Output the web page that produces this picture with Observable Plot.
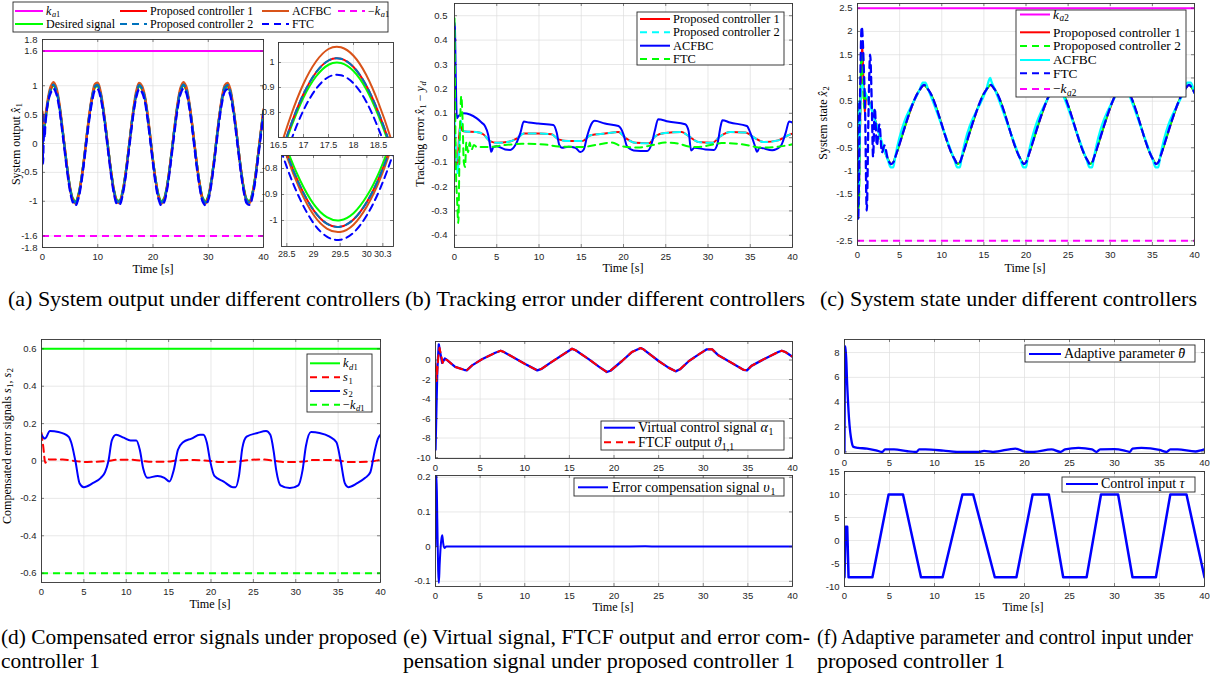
<!DOCTYPE html>
<html><head><meta charset="utf-8">
<script src="https://cdn.jsdelivr.net/npm/d3@7"></script>
<script src="https://cdn.jsdelivr.net/npm/@observablehq/plot@0.6"></script>
<style>
html,body{margin:0;padding:0;background:#fff;}
#fig{position:relative;width:1219px;height:677px;overflow:hidden;background:#fff;}
#fig svg{position:absolute;}
</style></head><body><div id="fig"></div>
<script>
// ---------------- colours ----------------
const MAG="#ff00ff", RED="#ff0000", GRN="#00ff00", ORG="#d95319", SB="#0072bd", BLU="#0000ff", CYN="#00ffff";
const GRID="#dedede", FR="#333333", TXT="#262626";
const DASH="7,5";

// ---------------- panel (a): system output ----------------
const tA=[0,0.1,0.2,0.3,0.4,0.5,0.75,1,1.5,2,2.5,3,3.5,4,4.5,5,5.5,6,6.5,7,7.5,8,8.5,9,9.5,10,10.5,11,11.5,12,12.5,13,13.5,14,14.5,15,15.5,16,16.5,17,17.5,18,18.5,19,19.5,20,20.5,21,21.5,22,22.5,23,23.5,24,24.5,25,25.5,26,26.5,27,27.5,28,28.5,29,29.5,30,30.5,31,31.5,32,32.5,33,33.5,34,34.5,35,35.5,36,36.5,37,37.5,38,38.5,39,39.5,40];
const ydA=[0,0.08,0.16,0.24,0.31,0.39,0.56,0.72,0.93,1.00,0.91,0.68,0.33,-0.06,-0.44,-0.76,-0.95,-1.00,-0.88,-0.63,-0.28,0.12,0.49,0.79,0.97,0.99,0.85,0.58,0.22,-0.17,-0.54,-0.83,-0.98,-0.98,-0.82,-0.54,-0.17,0.23,0.59,0.86,0.99,0.94,0.79,0.49,0.11,-0.29,-0.64,-0.89,-1.00,-0.95,-0.75,-0.43,-0.05,0.34,0.68,0.91,1.00,0.93,0.71,0.38,-0.01,-0.40,-0.72,-0.94,-1.00,-0.91,-0.67,-0.33,0.07,0.45,0.76,0.95,0.99,0.88,0.62,0.27,-0.13,-0.50,-0.80,-0.97,-0.99,-0.85,-0.58,-0.21,0.18,0.55];
const p1A=[0.30,0.26,0.28,0.33,0.38,0.43,0.58,0.74,0.95,1.02,0.93,0.69,0.33,-0.06,-0.45,-0.78,-0.97,-1.02,-0.90,-0.64,-0.29,0.12,0.50,0.81,0.99,1.01,0.87,0.59,0.22,-0.18,-0.55,-0.85,-1.00,-1.00,-0.84,-0.55,-0.18,0.23,0.60,0.87,1.01,0.96,0.80,0.50,0.11,-0.30,-0.65,-0.91,-1.02,-0.97,-0.77,-0.44,-0.05,0.35,0.69,0.93,1.02,0.95,0.72,0.39,-0.01,-0.41,-0.73,-0.96,-1.02,-0.93,-0.68,-0.34,0.07,0.46,0.78,0.97,1.01,0.90,0.63,0.28,-0.13,-0.51,-0.82,-0.99,-1.01,-0.87,-0.59,-0.21,0.18,0.56];
const p2A=[0.20,0.24,0.27,0.32,0.37,0.42,0.58,0.74,0.95,1.02,0.93,0.69,0.33,-0.06,-0.45,-0.78,-0.97,-1.02,-0.90,-0.64,-0.29,0.12,0.50,0.81,0.99,1.01,0.87,0.59,0.22,-0.18,-0.55,-0.85,-1.00,-1.00,-0.84,-0.55,-0.18,0.23,0.60,0.87,1.01,0.96,0.80,0.50,0.11,-0.30,-0.65,-0.91,-1.02,-0.97,-0.77,-0.44,-0.05,0.35,0.69,0.93,1.02,0.95,0.72,0.39,-0.01,-0.41,-0.73,-0.96,-1.02,-0.93,-0.68,-0.34,0.07,0.46,0.78,0.97,1.01,0.90,0.63,0.28,-0.13,-0.51,-0.82,-0.99,-1.01,-0.87,-0.59,-0.21,0.18,0.56];
const acA=[0.55,0.42,0.34,0.36,0.42,0.48,0.63,0.79,0.99,1.06,0.97,0.73,0.36,-0.05,-0.45,-0.79,-0.99,-1.04,-0.92,-0.65,-0.29,0.14,0.53,0.84,1.03,1.05,0.91,0.62,0.24,-0.17,-0.56,-0.86,-1.02,-1.02,-0.85,-0.56,-0.17,0.25,0.63,0.92,1.05,1.00,0.84,0.53,0.13,-0.30,-0.66,-0.93,-1.04,-0.99,-0.78,-0.44,-0.04,0.37,0.73,0.97,1.06,0.99,0.76,0.41,0.00,-0.41,-0.75,-0.98,-1.04,-0.95,-0.70,-0.34,0.08,0.48,0.81,1.01,1.05,0.94,0.66,0.29,-0.13,-0.52,-0.83,-1.01,-1.03,-0.89,-0.60,-0.21,0.20,0.59];
const ftcA=[0.50,-0.35,0.05,0.25,0.10,0.30,0.55,0.72,0.88,0.95,0.86,0.63,0.27,-0.12,-0.51,-0.83,-1.02,-1.07,-0.95,-0.70,-0.34,0.06,0.44,0.74,0.92,0.94,0.80,0.53,0.16,-0.23,-0.61,-0.90,-1.05,-1.05,-0.89,-0.61,-0.23,0.17,0.54,0.81,0.94,0.89,0.74,0.43,0.05,-0.35,-0.71,-0.96,-1.07,-1.02,-0.82,-0.50,-0.11,0.28,0.63,0.86,0.95,0.88,0.66,0.32,-0.07,-0.47,-0.79,-1.01,-1.07,-0.98,-0.74,-0.39,0.01,0.40,0.71,0.90,0.94,0.83,0.57,0.21,-0.19,-0.57,-0.87,-1.04,-1.06,-0.92,-0.65,-0.27,0.12,0.50];
const kA=[1.6];
// zoomed insets of (a)
const tI1=[16.25,16.5,16.75,17,17.25,17.5,17.75,18,18.25,18.5,18.75,19];
const ydI1=[0.420,0.592,0.740,0.860,0.944,0.991,0.998,0.966,0.895,0.787,0.650,0.487];
const p1I1=[0.425,0.600,0.752,0.874,0.960,1.008,1.015,0.982,0.910,0.800,0.660,0.493];
const acI1=[0.452,0.633,0.789,0.915,1.004,1.054,1.061,1.027,0.952,0.838,0.694,0.522];
const ftcI1=[0.363,0.538,0.688,0.809,0.894,0.942,0.949,0.917,0.845,0.735,0.596,0.431];
const tI2=[28.25,28.5,28.75,29,29.25,29.5,29.75,30,30.25,30.5,30.75];
const ydI2=[-0.572,-0.724,-0.846,-0.936,-0.987,-0.999,-0.972,-0.906,-0.805,-0.668,-0.508];
const p1I2=[-0.588,-0.743,-0.868,-0.960,-1.012,-1.024,-0.996,-0.929,-0.826,-0.686,-0.523];
const acI2=[-0.594,-0.754,-0.883,-0.978,-1.031,-1.044,-1.016,-0.946,-0.840,-0.695,-0.526];
const ftcI2=[-0.641,-0.795,-0.919,-1.010,-1.062,-1.074,-1.047,-0.980,-0.877,-0.739,-0.577];

// ---------------- panel (b): tracking error ----------------
const tB1=[0,0.1,0.2,0.35,0.5,0.7,0.9,1.26,2.6,3.4,4.2,5,6.4,7.4,8.2,9.9,11.5,12.3,13.5,15.1,16.1,17.8,19.4,20.2,21.4,23,23.8,24.9,26.9,27.7,28.9,30.5,31.5,32.6,34.4,35.6,36.6,38.3,39.3,40];
const vB1=[0.05,-0.05,-0.09,-0.12,-0.02,0.06,0.03,0.025,0.023,0.014,-0.014,-0.021,-0.017,-0.003,0.017,0.017,0.014,-0.007,-0.014,-0.014,0.01,0.017,0.023,0,-0.021,-0.023,0.007,0.019,0.023,0.007,-0.018,-0.021,0.007,0.023,0.021,-0.003,-0.018,-0.011,0.007,0.017];
const tB2=[0,0.25,0.4,0.55,0.75,1.0,1.3,2.6,3.4,4.2,5,6.4,7.4,8.2,9.9,11.5,12.3,13.5,15.1,16.1,17.8,19.4,20.2,21.4,23,23.8,24.9,26.9,27.7,28.9,30.5,31.5,32.6,34.4,35.6,36.6,38.3,39.3,40];
const vB2=[0.08,-0.1,-0.15,-0.03,0.07,0.03,0.025,0.023,0.014,-0.014,-0.021,-0.017,-0.003,0.017,0.017,0.014,-0.007,-0.014,-0.014,0.01,0.017,0.023,0,-0.021,-0.023,0.007,0.019,0.023,0.007,-0.018,-0.021,0.007,0.023,0.021,-0.003,-0.018,-0.011,0.007,0.017];
const tB3=[0,0.05,0.15,0.28,0.5,1.07,2.6,3.2,3.6,4.0,4.2,4.35,4.6,5,6,6.6,7.2,7.8,8.2,8.8,9.9,11.7,12.1,12.4,12.7,13.5,14.3,14.9,15.3,15.7,16.3,16.6,17.8,19.4,20.0,20.4,21.2,22.8,23.3,23.7,24.1,25.3,27.3,27.7,28.0,28.4,29.7,30.7,31.1,31.5,31.7,32.6,34.6,35.0,35.5,35.8,36.1,37.6,38.6,39.2,39.6,40];
const vB3=[0.47,0.45,0.25,0.08,0.09,0.1,0.08,0.062,0.048,0.01,-0.03,-0.058,-0.038,-0.035,-0.048,-0.05,-0.03,0.02,0.066,0.062,0.058,0.052,0.02,-0.03,-0.041,-0.037,-0.041,-0.059,-0.048,0.007,0.062,0.069,0.058,0.048,0.014,-0.034,-0.052,-0.055,-0.028,0.027,0.076,0.066,0.055,0.028,-0.052,-0.041,-0.048,-0.05,-0.028,0.048,0.072,0.062,0.048,0.021,-0.028,-0.058,-0.041,-0.051,-0.034,0.021,0.066,0.062];
const tB4=[0,0.15,0.3,0.45,0.6,0.8,0.95,1.1,1.25,1.4,1.6,1.8,2.0,2.3,2.7,3,4.2,6,8,10.7,12.3,15.1,17,18.6,19.8,21.7,23.5,24.9,26.5,27.7,28.9,30.3,31.6,33.5,35,36,38,40];
const vB4=[0.49,-0.1,-0.25,-0.35,-0.05,0.17,0.08,-0.1,-0.12,-0.02,-0.06,-0.02,-0.05,-0.03,-0.04,-0.038,-0.038,-0.03,-0.025,-0.028,-0.036,-0.038,-0.028,-0.02,-0.035,-0.04,-0.03,-0.02,-0.024,-0.036,-0.038,-0.03,-0.022,-0.025,-0.033,-0.04,-0.038,-0.027];

// ---------------- panel (c): system state ----------------
const tCtail=[1.4,3.6,4.0,4.3,4.45,7.4,7.9,8.4,11.5,11.9,12.2,12.35,15.3,15.8,16.3,19.35,19.75,20.05,20.2,23.15,23.65,24.15,27.2,27.6,27.9,28.05,31.0,31.5,32.0,35.05,35.45,35.75,35.9,38.85,39.35,39.65,40];
const vCtail=[0.48,-0.74,-0.85,-0.8,-0.72,0.75,0.85,0.75,-0.74,-0.85,-0.8,-0.72,0.75,0.85,0.75,-0.74,-0.85,-0.8,-0.72,0.75,0.85,0.75,-0.74,-0.85,-0.8,-0.72,0.75,0.85,0.75,-0.74,-0.85,-0.8,-0.72,0.75,0.85,0.8,0.68];
const tC1a=[0,0.15,0.35,0.55,0.7,0.85,1.05], vC1a=[-0.5,-1.6,0.4,1.75,1.0,0.25,0.62];
const tC2a=[0,0.15,0.3,0.45,0.6,0.8,1.0], vC2a=[0.3,-1.8,-0.2,1.5,1.1,0.35,0.65];
const tC5a=[0,0.08,0.25,0.5,0.75,0.9,1.1,1.3,1.5,1.7,1.85,2.05,2.3,2.6,2.9,3.2];
const vC5a=[0.45,-2.05,0.0,2.1,1.2,0.3,-1.85,0.2,1.5,0.4,-0.7,0.35,-0.45,0.0,-0.6,-0.45];
const tC4=[0,0.12,0.3,0.5,0.8,3.6,3.95,4.25,4.45,7.4,7.75,8.05,8.4,11.5,11.85,12.15,12.35,15.3,15.75,15.9,16.3,19.35,19.7,20.0,20.2,23.15,23.5,23.8,24.15,27.2,27.55,27.85,28.05,31.0,31.35,31.65,32.0,35.05,35.4,35.7,35.9,38.85,39.15,39.55,40];
const vC4=[0.5,-1.4,0.2,0.85,0.74,-0.76,-0.92,-0.92,-0.72,0.76,0.9,0.9,0.75,-0.76,-0.92,-0.92,-0.72,0.76,1.0,0.92,0.75,-0.76,-0.92,-0.92,-0.72,0.76,0.9,0.9,0.75,-0.76,-0.92,-0.92,-0.72,0.76,0.9,0.9,0.75,-0.76,-0.92,-0.92,-0.72,0.76,0.9,0.9,0.68];
const kC=[2.5];

// ---------------- panel (d): compensated errors ----------------
const tD1=[0,0.2,0.45,0.7,1.0,2.5,4.0,5,6.5,7.8,9,11,12,13,15,16,18,20,21,23,24,26,27.6,29,31,32,34,35.4,36.5,38.5,39.5,40];
const vD1=[0.15,0.08,-0.01,0.01,0.008,0.008,0.0,-0.005,-0.004,0.0,0.007,0.006,0.0,-0.004,-0.003,0.003,0.005,0.0,-0.005,-0.004,0.003,0.008,0.0,-0.006,-0.003,0.005,0.006,0.0,-0.006,-0.004,0.002,0.007];
const tD2=[0,0.4,1,2,3.2,3.5,4,4.5,5,6,7,7.5,7.9,8.3,8.8,9.7,10.5,11.2,11.6,12,12.5,13.7,14.5,15.1,15.6,16.1,16.7,17.7,18.7,19.1,19.5,19.9,20.4,21.5,22.6,22.9,23.3,23.7,24.2,25.5,26.5,27,27.4,27.7,28.2,29.3,30.3,30.8,31.2,31.8,32.8,34,34.8,35.3,35.8,36.2,37.2,38.2,38.8,39.3,39.7,40];
const vD2=[0.14,0.12,0.16,0.155,0.13,0.1,0,-0.12,-0.14,-0.12,-0.09,-0.06,0,0.11,0.14,0.125,0.11,0.11,0.06,-0.04,-0.09,-0.08,-0.09,-0.11,-0.05,0.06,0.1,0.12,0.14,0.14,0.1,0,-0.08,-0.11,-0.14,-0.14,-0.08,0.07,0.13,0.15,0.16,0.14,0.05,-0.05,-0.13,-0.145,-0.13,-0.05,0.08,0.155,0.15,0.13,0.1,0,-0.12,-0.14,-0.12,-0.09,-0.06,0.05,0.12,0.14];
const kD=[0.6];

// ---------------- panel (e): virtual signal / FTCF / compensation ----------------
const tE1=[0,0.1,0.2,0.37,0.56,0.75,1.04,1.3,2.2,3.2,3.5,4.1,5.2,6.7,7.3,7.6,8.6,10.1,11.4,11.9,12.9,14.6,15.3,15.7,17.2,18.3,19.2,19.6,20.9,22.0,23.0,23.3,25.0,26.1,26.9,27.4,28.4,29.5,30.4,31.0,31.7,33.0,34.5,34.9,35.4,36.9,38.4,38.8,39.2,40];
const vE1=[-9.2,-5,-1,1.6,0.6,-0.3,0.15,0,-0.7,-1.0,-1.06,-0.55,0.07,0.75,0.95,0.85,0.34,-0.44,-1.06,-0.9,-0.27,0.75,1.16,1.0,0.07,-0.68,-1.23,-1.1,-0.1,0.82,1.23,1.1,-0.1,-0.78,-1.16,-0.95,-0.1,0.58,1.1,1.1,0.48,-0.2,-1.0,-1.06,-0.6,0.14,0.82,0.95,0.82,0.34];
const tE2=[0,0.12,0.3,0.45,0.65,0.8,1.0,1.3,2.2,3.2,3.5,4.1,5.2,6.7,7.3,7.6,8.6,10.1,11.4,11.9,12.9,14.6,15.3,15.7,17.2,18.3,19.2,19.6,20.9,22.0,23.0,23.3,25.0,26.1,26.9,27.4,28.4,29.5,30.4,31.0,31.7,33.0,34.5,34.9,35.4,36.9,38.4,38.8,39.2,40];
const vE2=[-0.4,-2.15,0.2,1.25,0.4,-0.3,0.1,0,-0.7,-1.0,-1.06,-0.55,0.07,0.75,0.95,0.85,0.34,-0.44,-1.06,-0.9,-0.27,0.75,1.16,1.0,0.07,-0.68,-1.23,-1.1,-0.1,0.82,1.23,1.1,-0.1,-0.78,-1.16,-0.95,-0.1,0.58,1.1,1.1,0.48,-0.2,-1.0,-1.06,-0.6,0.14,0.82,0.95,0.82,0.34];
const tE3=[0,0.05,0.11,0.2,0.3,0.38,0.47,0.58,0.68,0.76,0.86,1.0,1.2,5,10,15,20,23.5,25,30,35,40];
const vE3=[0,0.15,0.21,0.08,-0.07,-0.105,-0.05,0.0,0.025,0.033,0.01,-0.004,0,0,0,0,0,0.001,0,0,0,0];

// ---------------- panel (f): adaptive parameter / control input ----------------
const tF1=[0,0.05,0.12,0.3,0.5,0.8,1.0,1.5,2.5,3.5,4.2,4.5,5.5,7,8,8.3,9,11,12.5,15,15.5,16.5,19,20,21,23,24,24.5,26,27.5,28,28.4,30,31,31.7,32,33,35,35.8,36.2,37,39,39.7,40];
const vF1=[0,8.3,8.5,5.4,2.7,0.8,0.4,0.32,0.27,0.13,0,0.2,0.2,0.05,0,0.2,0.2,0.1,0,0,0.08,0,0.27,0.02,0,0.2,0,0.2,0.33,0.2,0,0.2,0.22,0.13,0,0.27,0.32,0.16,0,0.2,0.2,0.03,0.15,0.2];
const tF2=[0,0.12,0.3,0.45,3.1,4.9,6.5,8.5,10.9,13.1,14.3,16.7,19.1,20.9,22.7,24.3,26.9,28.5,30.4,32.0,34.6,36.2,38.0,40];
const vF2=[-8,3,3,-8,-8,10,10,-8,-8,10,10,-8,-8,10,10,-8,-8,10,10,-8,-8,10,10,-8];

// ---------------- ticks ----------------
const xT5=[0,5,10,15,20,25,30,35,40];
const xT10=[0,10,20,30,40];
const yTA=[-1.8,-1.6,-1,-0.5,0,0.5,1,1.6,1.8];
const xTI1=[16.5,17,17.5,18,18.5], yTI1=[0.8,0.9,1];
const xTI2=[28.5,29,29.5,30,30.3], yTI2=[-1,-0.9,-0.8];
const yTB=[-0.4,-0.3,-0.2,-0.1,0,0.1,0.2,0.3,0.4,0.5];
const yTC=[-2.5,-2,-1.5,-1,-0.5,0,0.5,1,1.5,2,2.5];
const yTD=[-0.6,-0.4,-0.2,0,0.2,0.4,0.6];
const yTE1=[-10,-8,-6,-4,-2,0], yTE2=[-0.1,0,0.1,0.2];
const yTF1=[0,2,4,6,8], yTF2=[-10,-5,0,5,10,15];

// ---------------- helpers ----------------
const root=document.getElementById("fig");
const fmt=d=>String(d);
function L(t,v,o){const n=Math.min(t.length,v.length);const tt=t.slice(0,n),vv=v.slice(0,n);
  return Plot.line(tt,{x:tt,y:vv,stroke:o.c,strokeWidth:o.w||2,strokeDasharray:o.d?DASH:null,curve:o.curve||"monotone-x",clip:true});}
function panel(o){
  const ml=40,mr=8,mt=8,mb=24;
  const marks=[
    Plot.gridX(o.xt,{stroke:GRID,strokeOpacity:1,strokeWidth:0.7}),
    Plot.gridY(o.yt,{stroke:GRID,strokeOpacity:1,strokeWidth:0.7}),
    ...o.marks,
    Plot.axisX(o.xt,{label:null,tickSize:0,tickPadding:o.xpad??6,tickFormat:fmt}),
    Plot.axisY(o.yt,{label:null,tickSize:0,tickPadding:o.ypad??5,tickFormat:fmt}),
    Plot.tickX(o.xt,{x:d=>d,insetTop:o.h-3,stroke:FR,strokeWidth:0.6}),
    Plot.tickX(o.xt,{x:d=>d,insetBottom:o.h-3,stroke:FR,strokeWidth:0.6}),
    Plot.tickY(o.yt,{y:d=>d,insetRight:o.w-3,stroke:FR,strokeWidth:0.6}),
    Plot.tickY(o.yt,{y:d=>d,insetLeft:o.w-3,stroke:FR,strokeWidth:0.6}),
    Plot.frame({stroke:FR,strokeWidth:0.9})
  ];
  const svg=Plot.plot({width:o.w+ml+mr,height:o.h+mt+mb,marginLeft:ml,marginRight:mr,marginTop:mt,marginBottom:mb,
    x:{domain:o.x},y:{domain:o.y},
    style:{fontFamily:"'Liberation Sans',Arial,Helvetica,sans-serif",fontSize:(o.fs||9.5)+"px",color:TXT,background:"transparent",overflow:"visible"},
    marks});
  svg.style.left=(o.left-ml)+"px"; svg.style.top=(o.top-mt)+"px";
  root.appendChild(svg);
}

// ---------------- (a) ----------------
panel({left:42,top:39,w:221,h:208,x:[0,40],y:[-1.8,1.8],xt:xT10,yt:yTA,marks:[
  Plot.ruleY(kA,{y:d=>d,stroke:MAG,strokeWidth:2}),
  L(tA,ydA,{c:GRN,w:2.3,curve:"catmull-rom"}),
  L(tA,p1A,{c:RED,w:2.3,curve:"catmull-rom"}),
  L(tA,acA,{c:ORG,w:2.3,curve:"catmull-rom"}),
  L(tA,p2A,{c:SB,w:2.3,d:1,curve:"catmull-rom"}),
  L(tA,ftcA,{c:BLU,w:2.3,d:1,curve:"catmull-rom"}),
  Plot.ruleY(kA,{y:d=>-d,stroke:MAG,strokeWidth:2,strokeDasharray:DASH})
]});
panel({left:278,top:42,w:115,h:95,x:[16.5,18.8],y:[0.7,1.08],xt:xTI1,yt:yTI1,fs:9,xpad:4,ypad:4,marks:[
  L(tI1,ydI1,{c:GRN,curve:"natural"}),L(tI1,p1I1,{c:RED,curve:"natural"}),L(tI1,acI1,{c:ORG,curve:"natural"}),
  L(tI1,p1I1,{c:SB,d:1,curve:"natural"}),L(tI1,ftcI1,{c:BLU,d:1,curve:"natural"})]});
panel({left:281,top:155,w:112,h:91,x:[28.4,30.5],y:[-1.1,-0.75],xt:xTI2,yt:yTI2,fs:9,xpad:4,ypad:4,marks:[
  L(tI2,ydI2,{c:GRN,curve:"natural"}),L(tI2,p1I2,{c:RED,curve:"natural"}),L(tI2,acI2,{c:ORG,curve:"natural"}),
  L(tI2,p1I2,{c:SB,d:1,curve:"natural"}),L(tI2,ftcI2,{c:BLU,d:1,curve:"natural"})]});

// ---------------- (b) ----------------
panel({left:454,top:3,w:338,h:244,x:[0,40],y:[-0.45,0.55],xt:xT5,yt:yTB,ypad:7,marks:[
  L(tB1,vB1,{c:RED}),L(tB2,vB2,{c:CYN,d:1}),L(tB3,vB3,{c:BLU}),L(tB4,vB4,{c:GRN,d:1})]});

// ---------------- (c) ----------------
panel({left:857,top:3,w:337,h:242,x:[0,40],y:[-2.6,2.6],xt:xT5,yt:yTC,marks:[
  Plot.ruleY(kC,{y:d=>d,stroke:MAG,strokeWidth:2}),
  L(tC1a.concat(tCtail),vC1a.concat(vCtail),{c:RED}),
  L(tC2a.concat(tCtail),vC2a.concat(vCtail),{c:GRN,d:1}),
  L(tC4,vC4,{c:CYN,w:2.3}),
  L(tC5a.concat(tCtail.slice(1)),vC5a.concat(vCtail.slice(1)),{c:BLU,w:2.3,d:1}),
  Plot.ruleY(kC,{y:d=>-d,stroke:MAG,strokeWidth:2,strokeDasharray:DASH})]});

// ---------------- (d) ----------------
panel({left:41,top:339,w:339,h:243,x:[0,40],y:[-0.65,0.65],xt:xT5,yt:yTD,marks:[
  Plot.ruleY(kD,{y:d=>d,stroke:GRN,strokeWidth:2}),
  L(tD1,vD1,{c:RED,d:1}),L(tD2,vD2,{c:BLU}),
  Plot.ruleY(kD,{y:d=>-d,stroke:GRN,strokeWidth:2,strokeDasharray:DASH})]});

// ---------------- (e) ----------------
panel({left:435,top:341,w:357,h:117,x:[0,40],y:[-10.1,1.9],xt:xT5,yt:yTE1,marks:[
  L(tE1,vE1,{c:BLU,w:2.3,curve:"linear"}),L(tE2,vE2,{c:RED,d:1,curve:"linear"})]});
panel({left:435,top:475,w:357,h:111,x:[0,40],y:[-0.115,0.205],xt:xT5,yt:yTE2,marks:[
  L(tE3,vE3,{c:BLU})]});

// ---------------- (f) ----------------
panel({left:844,top:339,w:360,h:114,x:[0,40],y:[-0.13,9.05],xt:xT5,yt:yTF1,marks:[
  L(tF1,vF1,{c:BLU,w:2.3})]});
panel({left:844,top:471,w:360,h:115,x:[0,40],y:[-10,15],xt:xT5,yt:yTF2,marks:[
  L(tF2,vF2,{c:BLU,w:2.5,curve:"linear"})]});

// ---------------- overlay: labels, legends, captions ----------------
const ov=d3.create("svg").attr("width",1219).attr("height",677).style("left","0px").style("top","0px");
const SERIF="'Liberation Serif','Times New Roman',Times,serif";
function mtext(g,x,y,parts,o={}){
  const size=o.size||12.5;
  if(typeof parts==="string") parts=[[parts,""]];
  const t=g.append("text").attr("x",x).attr("y",y).attr("font-family",SERIF).attr("font-size",size).attr("fill","#000");
  if(o.anchor) t.attr("text-anchor",o.anchor);
  if(o.rotate) t.attr("transform",`rotate(-90 ${x} ${y})`);
  if(o.len) t.attr("textLength",o.len).attr("lengthAdjust",o.adjust||"spacingAndGlyphs");
  let shift=0, prevSub=false;
  for(const [s,st] of parts){
    const sp=t.append("tspan").text(s);
    if(st.includes("h")){ // hat accent over the previous glyph
      sp.attr("dx",-size*0.43).attr("dy",-size*0.06);
      continue;
    }
    const sub=st.includes("s");
    const target=sub?size*0.2:0;
    if(target!==shift){sp.attr("dy",target-shift);shift=target;}
    if(sub){sp.attr("font-size",size*0.7); if(!prevSub) sp.attr("dx",size*0.05);}
    if(st.includes("i")) sp.attr("font-style","italic");
    prevSub=sub;
  }
  return t;
}
function legend(box,items,o){
  ov.append("rect").attr("x",box[0]).attr("y",box[1]).attr("width",box[2]-box[0]).attr("height",box[3]-box[1])
    .attr("fill","#fff").attr("stroke","#262626").attr("stroke-width",0.9);
  for(const it of items){
    ov.append("line").attr("x1",it.x0??o.x0).attr("x2",it.x1??o.x1).attr("y1",it.y).attr("y2",it.y)
      .attr("stroke",it.c).attr("stroke-width",2).attr("stroke-dasharray",it.d?DASH:null);
    mtext(ov,it.tx??o.tx,it.y+o.size*0.32,it.p,{size:o.size});
  }
}
// legends
legend([13,2,388,32],[
  {x0:15,x1:43,tx:46,y:11,c:MAG,p:[["k","i"],["a","si"],["1","s"]]},
  {x0:15,x1:43,tx:46,y:24,c:GRN,p:"Desired signal"},
  {x0:120,x1:147,tx:150,y:11,c:RED,p:"Proposed controller 1"},
  {x0:120,x1:147,tx:150,y:24,c:SB,d:1,p:"Proposed controller 2"},
  {x0:262,x1:289,tx:292,y:11,c:ORG,p:"ACFBC"},
  {x0:262,x1:289,tx:292,y:24,c:BLU,d:1,p:"FTC"},
  {x0:338,x1:365,tx:368,y:11,c:MAG,d:1,p:[["−",""],["k","i"],["a","si"],["1","s"]]}
],{size:12});
legend([637,12,784,65],[
  {y:19,c:RED,p:"Proposed controller 1"},
  {y:32.3,c:CYN,d:1,p:"Proposed controller 2"},
  {y:45.7,c:BLU,p:"ACFBC"},
  {y:59,c:GRN,d:1,p:"FTC"}
],{x0:640,x1:670,tx:673,size:12.4});
legend([1016,10,1186,97],[
  {y:14.5,c:MAG,p:[["k","i"],["a","si"],["2","s"]]},
  {y:32.3,c:RED,p:"Propoposed controller 1"},
  {y:46,c:GRN,d:1,p:"Propoposed controller 2"},
  {y:60,c:CYN,p:"ACFBC"},
  {y:73.3,c:BLU,d:1,p:"FTC"},
  {y:89,c:MAG,d:1,p:[["−",""],["k","i"],["a","si"],["2","s"]]}
],{x0:1020,x1:1050,tx:1053,size:13.3});
legend([307,354,372,412],[
  {y:363.3,c:GRN,p:[["k","i"],["d","si"],["1","s"]]},
  {y:377.3,c:RED,d:1,p:[["s","i"],["1","s"]]},
  {y:391,c:BLU,p:[["s","i"],["2","s"]]},
  {y:404.8,c:GRN,d:1,p:[["−",""],["k","i"],["d","si"],["1","s"]]}
],{x0:310,x1:340,tx:343,size:12.3});
legend([601,421,784,450],[
  {y:427.7,c:BLU,p:[["Virtual control signal ",""],["α","i"],["1","s"]]},
  {y:442.3,c:RED,d:1,p:[["FTCF output ",""],["ϑ","i"],["1,1","s"]]}
],{x0:604,x1:635,tx:638,size:14});
legend([574,478,784,496],[
  {y:487.3,c:BLU,p:[["Error compensation signal ",""],["υ","i"],["1","s"]]}
],{x0:578,x1:608,tx:612,size:14});
legend([1025,345,1195,362],[
  {y:354,c:BLU,p:[["Adaptive parameter ",""],["θ","i"],["ˆ","h"]]}
],{x0:1029,x1:1061,tx:1064,size:14});
legend([1062,477,1195,492],[
  {y:484,c:BLU,p:[["Control input ",""],["τ","i"]]}
],{x0:1066,x1:1098,tx:1101,size:14});

// axis labels (x = baseline of the rotated text)
mtext(ov,20,144,[["System output ",""],["x̂","i"],["1","s"]],{size:12,anchor:"middle",rotate:1});
mtext(ov,424,134,[["Tracking error  ",""],["x̂","i"],["1","s"],[" − ",""],["y","i"],["d","si"]],{size:12,anchor:"middle",rotate:1});
mtext(ov,827,123,[["System state ",""],["x̂","i"],["2","s"]],{size:12,anchor:"middle",rotate:1});
mtext(ov,11,446,[["Compensated error signals  ",""],["s","i"],["1","s"],[",  ",""],["s","i"],["2","s"]],{size:12,anchor:"middle",rotate:1});
[[153,273],[623,272],[1025,272],[210,608],[613,611],[1023,611]].forEach(([x,y])=>mtext(ov,x,y,"Time [s]",{size:12.2,anchor:"middle"}));

// captions
const caps=[
  [8,306,"(a) System output under different controllers",392],
  [405,306,"(b) Tracking error under different controllers",400],
  [820,306,"(c) System state under different controllers",377],
  [1,644,"(d) Compensated error signals under proposed",396],
  [403,644,"(e) Virtual signal, FTCF output and error com-",407],
  [817,644,"(f) Adaptive parameter and control input under",376],
  [1,668,"controller 1",99],
  [403,668,"pensation signal under proposed controller 1",392],
  [817,668,"proposed controller 1",188]
];
caps.forEach(([x,y,s,len])=>mtext(ov,x,y,s,{size:21,len}));
root.appendChild(ov.node());
</script></body></html>
